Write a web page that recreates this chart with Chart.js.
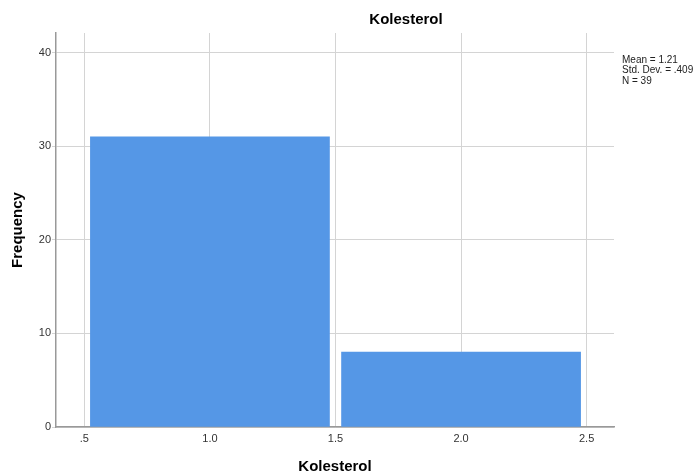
<!DOCTYPE html>
<html>
<head>
<meta charset="utf-8">
<script src="https://cdn.jsdelivr.net/npm/chart.js@4.4.1/dist/chart.umd.min.js"></script>
<style>
  html, body { margin: 0; padding: 0; background: #fff; }
  #wrap { width: 697px; height: 472px; }
</style>
</head>
<body>
<div id="wrap"><canvas id="histCanvas" width="697" height="472"></canvas></div>
<script>
const binCenters = [1.0, 2.0];
const frequencies = [31, 8];
const xTicks = [0.5, 1.0, 1.5, 2.0, 2.5];
const xTickLabels = ['.5', '1.0', '1.5', '2.0', '2.5'];
const yTicks = [0, 10, 20, 30, 40];
const statLines = ['Mean = 1.21', 'Std. Dev. = .409', 'N = 39'];
const chartTitle = 'Kolesterol';
const xTitle = 'Kolesterol';
const yTitle = 'Frequency';

Chart.defaults.font.family = 'Arial, "Liberation Sans", sans-serif';

// title and stats box are placed like SPSS does it, not by chart.js layout
const extraText = {
  id: 'extraText',
  afterDraw(c) {
    const ctx = c.ctx;
    const area = c.chartArea;
    ctx.save();
    ctx.fillStyle = '#000';
    ctx.font = 'bold 15px Arial, "Liberation Sans", sans-serif';
    ctx.textAlign = 'center';
    ctx.textBaseline = 'middle';
    ctx.fillText(chartTitle, 406, 20);
    ctx.font = '10px Arial, "Liberation Sans", sans-serif';
    ctx.fillStyle = '#222';
    ctx.textAlign = 'left';
    statLines.forEach((t, i) => ctx.fillText(t, area.right + 8, 60 + i * 10.5));
    ctx.restore();
  }
};

const ctx = document.getElementById('histCanvas').getContext('2d');
new Chart(ctx, {
  type: 'bar',
  data: {
    datasets: [{
      data: binCenters.map((x, i) => ({ x: x, y: frequencies[i] })),
      backgroundColor: '#5597e6',
      borderWidth: 0,
      barThickness: 'flex',
      categoryPercentage: 1.0,
      barPercentage: 0.952
    }]
  },
  options: {
    responsive: false,
    animation: false,
    layout: { padding: { top: 33, right: 83, bottom: 0, left: 0 } },
    plugins: {
      legend: { display: false },
      tooltip: { enabled: false }
    },
    scales: {
      x: {
        type: 'linear',
        min: 0.387,
        max: 2.609,
        offset: false,
        afterBuildTicks: s => { s.ticks = xTicks.map(v => ({ value: v })); },
        afterFit: s => { s.height = 45; },
        grid: { offset: false, color: '#d4d4d4', drawTicks: false },
        border: { color: '#999', width: 1.5 },
        ticks: {
          padding: 5,
          color: '#333',
          font: { size: 11 },
          maxRotation: 0,
          callback: (v, i) => xTickLabels[i]
        },
        title: {
          display: true,
          text: xTitle,
          color: '#000',
          font: { size: 15, weight: 'bold' },
          padding: { top: 0, bottom: -4 }
        }
      },
      y: {
        min: 0,
        max: 42.1,
        afterBuildTicks: s => { s.ticks = yTicks.map(v => ({ value: v })); },
        afterFit: s => { s.width = 56; },
        grid: { color: '#d4d4d4', tickLength: 4 },
        border: { color: '#999', width: 1.5 },
        ticks: { padding: 1, color: '#333', font: { size: 11 } },
        title: {
          display: true,
          text: yTitle,
          color: '#000',
          font: { size: 15, weight: 'bold' },
          padding: { top: 9, bottom: 0 }
        }
      }
    }
  },
  plugins: [extraText]
});
</script>
</body>
</html>
